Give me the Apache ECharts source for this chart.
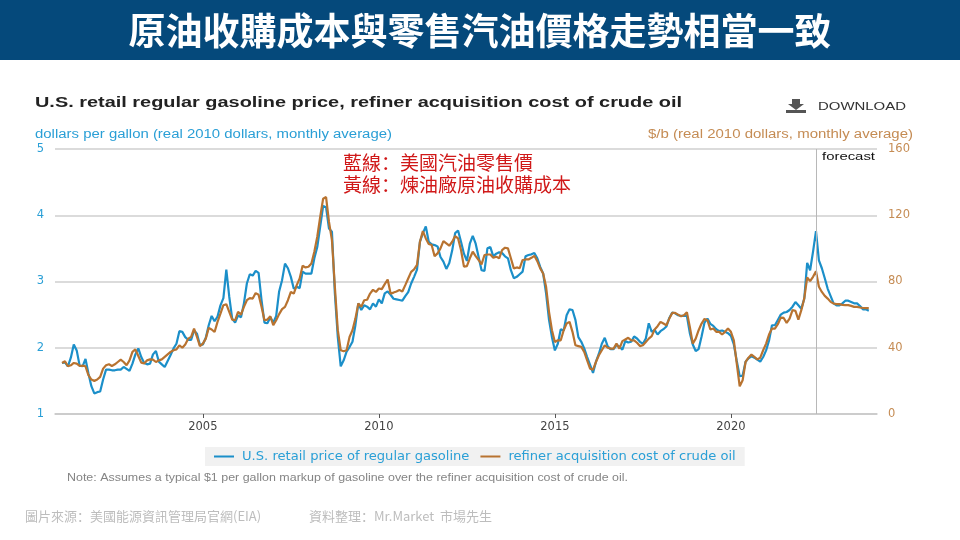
<!DOCTYPE html>
<html>
<head>
<meta charset="utf-8">
<style>html,body{margin:0;padding:0;background:#fff}#main{width:960px;height:540px}</style>
<script src="https://cdn.jsdelivr.net/npm/echarts@6/dist/echarts.min.js"></script>
</head>
<body>
<div id="main"></div>
<script>
// monthly values, Jan 2001 - Dec 2023, one row per year
var startYear = 2001;
var gasoline = [
    1.77, 1.78, 1.72, 1.85, 2.05, 1.96, 1.73, 1.72, 1.83, 1.61, 1.42, 1.31,
    1.33, 1.34, 1.52, 1.67, 1.67, 1.66, 1.66, 1.67, 1.67, 1.71, 1.68, 1.65,
    1.76, 1.90, 1.99, 1.86, 1.77, 1.75, 1.76, 1.90, 1.95, 1.79, 1.75, 1.71,
    1.80, 1.89, 1.99, 2.06, 2.25, 2.24, 2.16, 2.12, 2.12, 2.26, 2.21, 2.04,
    2.05, 2.15, 2.34, 2.48, 2.40, 2.47, 2.64, 2.75, 3.18, 2.77, 2.44, 2.38,
    2.49, 2.46, 2.67, 2.97, 3.11, 3.09, 3.16, 3.13, 2.72, 2.38, 2.37, 2.46,
    2.38, 2.48, 2.85, 3.02, 3.27, 3.20, 3.07, 2.89, 2.92, 2.90, 3.15, 3.12,
    3.12, 3.12, 3.35, 3.52, 3.83, 4.14, 4.12, 3.80, 3.75, 2.82, 2.16, 1.72,
    1.81, 1.94, 2.01, 2.09, 2.34, 2.67, 2.57, 2.64, 2.62, 2.58, 2.67, 2.62,
    2.73, 2.67, 2.82, 2.85, 2.80, 2.74, 2.73, 2.72, 2.71, 2.78, 2.84, 2.97,
    3.07, 3.18, 3.60, 3.73, 3.83, 3.60, 3.56, 3.55, 3.53, 3.37, 3.30, 3.19,
    3.28, 3.47, 3.73, 3.77, 3.60, 3.42, 3.31, 3.57, 3.69, 3.57, 3.37, 3.17,
    3.16, 3.50, 3.52, 3.38, 3.42, 3.44, 3.43, 3.38, 3.35, 3.17, 3.05, 3.07,
    3.11, 3.15, 3.38, 3.40, 3.41, 3.43, 3.35, 3.22, 3.12, 2.82, 2.42, 2.16,
    1.96, 2.06, 2.28, 2.26, 2.49, 2.58, 2.57, 2.42, 2.16, 2.09, 1.99, 1.86,
    1.74, 1.62, 1.79, 1.91, 2.06, 2.15, 2.02, 1.98, 1.98, 2.04, 2.02, 1.97,
    2.10, 2.08, 2.09, 2.17, 2.14, 2.09, 2.06, 2.14, 2.37, 2.24, 2.27, 2.20,
    2.25, 2.28, 2.32, 2.45, 2.53, 2.52, 2.49, 2.48, 2.48, 2.48, 2.22, 2.05,
    1.95, 1.98, 2.17, 2.38, 2.44, 2.36, 2.33, 2.28, 2.25, 2.26, 2.24, 2.22,
    2.18, 2.05, 1.80, 1.57, 1.58, 1.79, 1.84, 1.87, 1.85, 1.82, 1.79, 1.86,
    1.96, 2.11, 2.34, 2.34, 2.42, 2.50, 2.53, 2.54, 2.57, 2.62, 2.69, 2.64,
    2.59, 2.74, 3.28, 3.17, 3.45, 3.76, 3.32, 3.20, 3.05, 2.89, 2.78, 2.67,
    2.64, 2.64, 2.67, 2.71, 2.71, 2.69, 2.67, 2.67, 2.63, 2.58, 2.58, 2.56
];
var crudeCost = [
    30.8, 31.8, 28.8, 29.4, 30.8, 30.4, 29.0, 29.2, 28.8, 23.4, 20.8, 20.0,
    20.8, 22.4, 27.4, 29.4, 30.0, 29.0, 30.0, 31.4, 32.8, 31.4, 29.4, 32.4,
    37.5, 39.0, 35.0, 31.0, 30.5, 32.4, 33.0, 32.8, 31.4, 32.4, 33.0, 34.5,
    36.0, 37.5, 38.5, 39.0, 41.5, 40.0, 42.0, 45.5, 46.5, 51.6, 46.5, 41.0,
    42.5, 45.5, 52.0, 51.0, 49.5, 55.6, 60.6, 65.7, 66.3, 61.7, 57.0, 56.6,
    61.7, 60.0, 64.7, 68.7, 70.0, 69.7, 73.0, 72.0, 64.7, 56.6, 57.0, 59.0,
    53.6, 56.6, 60.3, 63.3, 64.7, 68.7, 73.7, 72.7, 77.8, 81.8, 89.5, 88.5,
    88.9, 90.9, 98.0, 107.0, 119.0, 130.0, 131.0, 116.0, 105.0, 76.8, 50.6, 38.5,
    37.9, 38.5, 46.5, 50.6, 57.6, 66.7, 64.7, 68.7, 69.0, 72.7, 75.0, 73.7,
    75.8, 75.4, 78.4, 81.2, 72.7, 73.3, 74.0, 74.8, 74.0, 77.8, 81.8, 85.8,
    87.3, 90.0, 104.0, 110.4, 106.0, 102.6, 102.0, 95.3, 97.0, 100.0, 104.4, 103.0,
    101.6, 104.0, 107.4, 106.0, 99.0, 89.0, 89.3, 94.0, 98.0, 95.3, 93.0, 90.3,
    96.0, 96.3, 96.3, 94.3, 95.0, 94.0, 99.0, 100.4, 100.0, 94.0, 87.9, 88.5,
    88.0, 93.0, 93.3, 93.3, 94.3, 95.5, 92.3, 87.9, 84.8, 76.8, 61.7, 50.6,
    43.5, 44.5, 44.5, 50.6, 54.6, 55.6, 49.6, 41.5, 41.0, 40.5, 37.5, 32.4,
    27.4, 26.8, 31.4, 35.5, 38.5, 41.5, 40.0, 39.5, 39.5, 42.5, 39.5, 44.0,
    45.0, 46.0, 44.5, 44.5, 43.0, 41.0, 41.5, 43.5, 45.5, 47.0, 51.0, 53.0,
    55.6, 54.6, 53.6, 57.6, 61.0, 61.0, 60.0, 59.0, 59.6, 61.5, 52.6, 42.5,
    45.5, 50.6, 54.6, 57.4, 56.6, 51.0, 51.6, 49.6, 49.6, 48.0, 49.6, 51.6,
    49.6, 44.5, 30.4, 16.7, 20.4, 31.4, 34.0, 35.9, 34.5, 33.0, 34.0, 38.5,
    42.5, 48.0, 51.6, 51.6, 54.2, 58.2, 58.0, 55.0, 57.6, 62.7, 62.3, 57.0,
    62.7, 69.7, 82.4, 80.2, 82.8, 86.2, 76.8, 73.7, 71.3, 69.7, 67.7, 66.7,
    66.3, 66.3, 65.9, 65.7, 65.7, 65.3, 64.7, 64.7, 64.3, 64.0, 63.9, 63.9
];
var yearTicks = [2005, 2010, 2015, 2020];
var forecastStart = 2022.42;

var BLUE = '#1b8fc9', BROWN = '#b87330', BLUE_TEXT = '#2a9fd6', BROWN_TEXT = '#c58c54';
var SANS = '"DejaVu Sans", sans-serif';
var ARIAL = '"Liberation Sans", sans-serif';
var CJK = '"Noto Sans CJK TC", sans-serif';
var CJK_SC = '"Noto Sans CJK SC", sans-serif';

function withMonths(values) {
    return values.map(function (v, i) {
        return [startYear + i / 12, v];
    });
}

var measureCtx = document.createElement('canvas').getContext('2d');

// the original picture is stretched sideways, so squeeze/stretch each text to its width
function wideLabel(x, y, text, font, color, width) {
    measureCtx.font = font;
    return {
        type: 'text', silent: true, x: x, y: y, originX: 0, originY: 0,
        scaleX: width / measureCtx.measureText(text).width,
        style: { x: 0, y: 0, text: text, fill: color, font: font, textVerticalAlign: 'middle' }
    };
}

function cjkLabel(x, y, text, size, color) {
    return { type: 'text', silent: true, style: { x: x, y: y, text: text, fill: color, font: size + 'px ' + CJK_SC, textVerticalAlign: 'middle' } };
}

var chart = echarts.init(document.getElementById('main'));
chart.setOption({
    animation: false,
    backgroundColor: '#fff',
    grid: { left: 55, right: 83, top: 149, height: 265, containLabel: false },
    legend: {
        left: 205, top: 447, itemWidth: 20, itemHeight: 2, itemGap: 11,
        padding: [3, 9, 3, 9],
        backgroundColor: '#f1f1f1',
        icon: 'rect',
        textStyle: { color: BLUE_TEXT, fontFamily: SANS, fontSize: 13.1, padding: [0, 0, 0, 3] },
        data: ['U.S. retail price of regular gasoline', 'refiner acquisition cost of crude oil']
    },
    xAxis: {
        type: 'value', min: 2000.8, max: 2024.15,
        splitLine: { show: false },
        axisLine: { lineStyle: { color: '#c8c8c8', width: 1.5 } },
        axisTick: { customValues: yearTicks, length: 4, lineStyle: { color: '#555' } },
        axisLabel: {
            customValues: yearTicks, color: '#444', fontFamily: SANS, fontSize: 11.5, margin: 7,
            formatter: function (v) { return String(v); }
        }
    },
    yAxis: [{
        type: 'value', min: 1, max: 5, interval: 1,
        axisLine: { show: false }, axisTick: { show: false },
        splitLine: { lineStyle: { color: '#cfcfcf', width: 1.5 } },
        axisLabel: { color: BLUE_TEXT, fontFamily: SANS, fontSize: 11.5, margin: 11, padding: [5, 0, 0, 0] }
    }, {
        type: 'value', min: 0, max: 160, interval: 40, position: 'right',
        axisLine: { show: false }, axisTick: { show: false },
        splitLine: { show: false },
        axisLabel: { color: BROWN_TEXT, fontFamily: SANS, fontSize: 11.5, margin: 11, padding: [5, 0, 0, 0] }
    }],
    series: [{
        name: 'U.S. retail price of regular gasoline', type: 'line', yAxisIndex: 0,
        data: withMonths(gasoline), showSymbol: false, symbol: 'none',
        lineStyle: { color: BLUE, width: 2.2 }, itemStyle: { color: BLUE },
        markLine: {
            silent: true, symbol: 'none', label: { show: false },
            lineStyle: { color: '#b8b8b8', width: 1, type: 'solid' },
            data: [{ xAxis: forecastStart }]
        }
    }, {
        name: 'refiner acquisition cost of crude oil', type: 'line', yAxisIndex: 1,
        data: withMonths(crudeCost), showSymbol: false, symbol: 'none',
        lineStyle: { color: BROWN, width: 2.2 }, itemStyle: { color: BROWN }
    }],
    graphic: [
        // header band
        { type: 'rect', silent: true, shape: { x: 0, y: 0, width: 960, height: 60 }, style: { fill: '#05497b' } },
        { type: 'text', silent: true, style: { x: 480, y: 31, text: '原油收購成本與零售汽油價格走勢相當一致', fill: '#fff', font: 'bold 37px ' + CJK, textAlign: 'center', textVerticalAlign: 'middle' } },
        // chart heading
        wideLabel(35, 103, 'U.S. retail regular gasoline price, refiner acquisition cost of crude oil', 'bold 14px ' + ARIAL, '#222', 647),
        wideLabel(818, 107, 'DOWNLOAD', '11.5px ' + ARIAL, '#333', 88),
        { type: 'polygon', silent: true, shape: { points: [[792, 99], [800, 99], [800, 104], [804, 104], [796, 110], [788, 104], [792, 104]] }, style: { fill: '#555' } },
        { type: 'rect', silent: true, shape: { x: 786, y: 110, width: 20, height: 3 }, style: { fill: '#555' } },
        wideLabel(35, 135, 'dollars per gallon (real 2010 dollars, monthly average)', '12px ' + ARIAL, BLUE_TEXT, 357),
        wideLabel(648, 135, '$/b (real 2010 dollars, monthly average)', '12px ' + ARIAL, BROWN_TEXT, 265),
        wideLabel(822, 157, 'forecast', '11.5px ' + ARIAL, '#111', 53),
        // annotation
        cjkLabel(343, 163, '藍線：美國汽油零售價', 19, '#d01818'),
        cjkLabel(343, 185, '黃線：煉油廠原油收購成本', 19, '#d01818'),
        // notes
        wideLabel(67, 478, 'Note: Assumes a typical $1 per gallon markup of gasoline over the refiner acquisition cost of crude oil.', '10px ' + ARIAL, '#858585', 561),
        cjkLabel(25, 516, '圖片來源：美國能源資訊管理局官網(EIA)', 13, '#bdbdbd'),
        cjkLabel(309, 516, '資料整理：Mr.Market  市場先生', 13, '#bdbdbd')
    ]
});
</script>
</body>
</html>
